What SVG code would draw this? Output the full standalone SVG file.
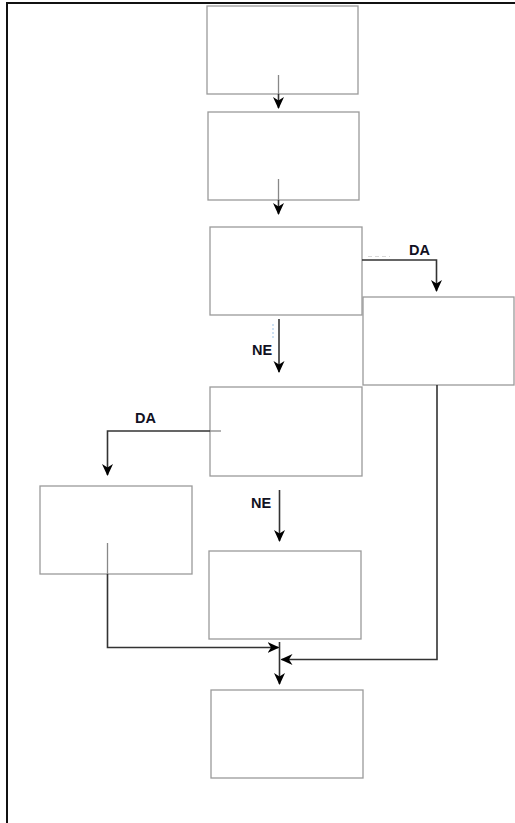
<svg xmlns="http://www.w3.org/2000/svg" width="515" height="823" viewBox="0 0 515 823">
  <style>
    .box { fill: #ffffff; stroke: #9a9a9a; stroke-width: 1.3; }
    .edge { fill: none; stroke: #333333; stroke-width: 1.6; }
    .edge-in { fill: none; stroke: #888888; stroke-width: 1.3; }
    .lbl { font-family: "Liberation Sans", Arial, sans-serif; font-size: 14.5px; font-weight: bold; fill: #111122; }
    .frame { fill: none; stroke: #111111; stroke-width: 2; }
  </style>
  <defs>
    <marker id="arr" markerWidth="13" markerHeight="13" refX="11" refY="5.5" orient="auto" markerUnits="userSpaceOnUse" viewBox="0 0 13 11">
      <path d="M0,0 L12,5.5 L0,11 L3.5,5.5 Z" fill="#000000"/>
    </marker>
  </defs>
  <rect width="515" height="823" fill="#ffffff"/>
  <path class="frame" d="M7,823 L7,3 L515,3"/>

  <g id="node1"><rect class="box" x="207" y="6" width="151" height="88"/></g>
  <g id="node2"><rect class="box" x="208" y="112" width="151" height="88"/></g>
  <g id="node3"><rect class="box" x="210" y="227" width="152" height="88"/></g>
  <g id="node4"><rect class="box" x="363" y="297" width="151" height="88"/></g>
  <g id="node5"><rect class="box" x="210" y="387" width="152" height="89"/></g>
  <g id="node6"><rect class="box" x="40" y="486" width="152" height="88"/></g>
  <g id="node7"><rect class="box" x="209" y="551" width="152" height="88"/></g>
  <g id="node8"><rect class="box" x="211" y="690" width="152" height="88"/></g>

  <g id="connectors">
    <path class="edge-in" d="M278.5,75 L278.5,94"/>
    <path class="edge" d="M278.5,94 L278.5,108" marker-end="url(#arr)"/>
    <path class="edge-in" d="M278.5,179 L278.5,200"/>
    <path class="edge" d="M278.5,200 L278.5,214" marker-end="url(#arr)"/>

    <path class="edge" d="M362,260 L436.5,260 L436.5,291" marker-end="url(#arr)"/>
    <path d="M368,256.5 L390,256.5" stroke="#d8d8d8" stroke-width="1" stroke-dasharray="4,3" fill="none"/>
    <text class="lbl" x="409" y="255">DA</text>

    <path class="edge" d="M279,319 L279,372" marker-end="url(#arr)"/>
    <path d="M273,324 L273,338" stroke="#9cc3e8" stroke-width="1" stroke-dasharray="2,2" fill="none"/>
    <text class="lbl" x="252" y="355">NE</text>

    <path class="edge-in" d="M221,431 L210,431"/>
    <path class="edge" d="M210,431 L107.5,431 L107.5,475" marker-end="url(#arr)"/>
    <text class="lbl" x="135" y="423">DA</text>

    <path class="edge" d="M279.5,490 L279.5,541" marker-end="url(#arr)"/>
    <text class="lbl" x="251" y="508">NE</text>

    <path class="edge-in" d="M107.5,543 L107.5,574"/>
    <path class="edge" d="M107.5,574 L107.5,647.5 L278.5,647.5" marker-end="url(#arr)"/>
    <path class="edge" d="M437,385 L437,659.5 L281.5,659.5" marker-end="url(#arr)"/>
    <path class="edge" d="M279.5,642 L279.5,684" marker-end="url(#arr)"/>
  </g>
</svg>
